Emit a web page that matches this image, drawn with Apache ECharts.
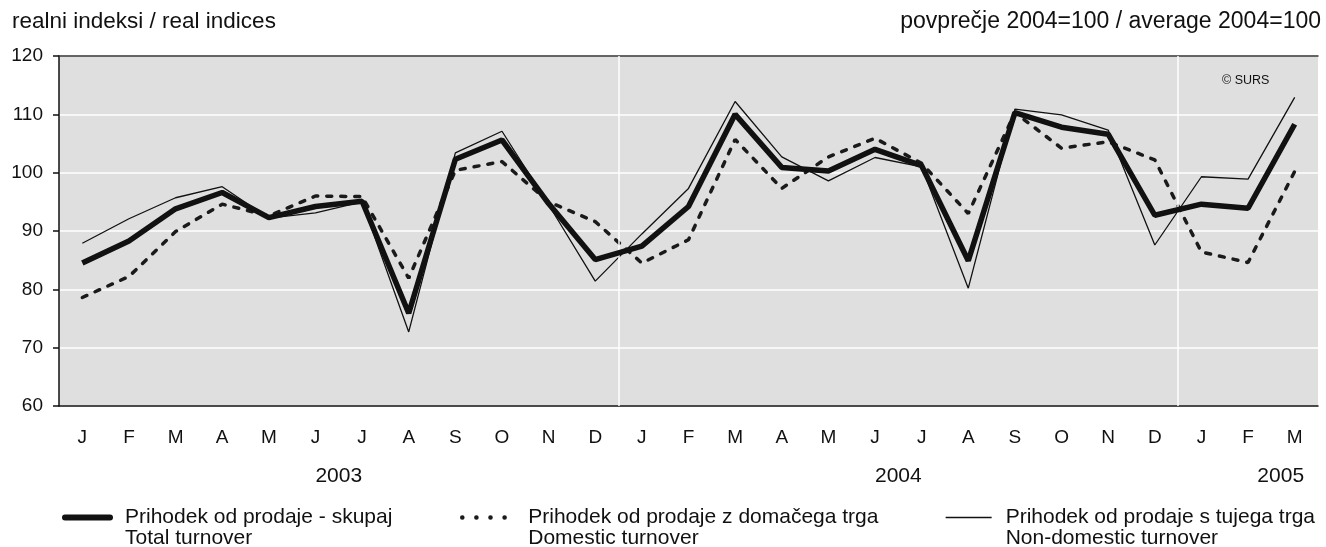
<!DOCTYPE html>
<html>
<head>
<meta charset="utf-8">
<script src="https://cdn.jsdelivr.net/npm/echarts@6/dist/echarts.min.js"></script>
<style>
  html, body { margin: 0; padding: 0; background: #fff; }
  #main { width: 1326px; height: 547px; }
</style>
</head>
<body>
<div id="main"></div>
<script>
// meseci jan 2003 - mar 2005
var months = ['J', 'F', 'M', 'A', 'M', 'J', 'J', 'A', 'S', 'O', 'N', 'D',
              'J', 'F', 'M', 'A', 'M', 'J', 'J', 'A', 'S', 'O', 'N', 'D',
              'J', 'F', 'M'];
var years = ['2003', '2004', '2005'];
var yearLabelAt = [6, 18, 26.2];   // polozaj napisa leta na osi (v mesecih)
var yearBreaks = [12, 24];         // meja med leti

var total = [84.5, 88.3, 93.8, 96.6, 92.3, 94.2, 95.1, 75.9, 102.3, 105.6, 94.7, 85.1,
             87.4, 94.2, 110.0, 100.9, 100.3, 104.0, 101.2, 84.9, 110.3, 107.8, 106.6, 92.7,
             94.6, 93.9, 108.3];
var domestic = [78.6, 82.2, 89.9, 94.6, 92.6, 96.0, 95.9, 81.9, 100.4, 101.9, 95.0, 91.6,
                84.5, 88.5, 105.7, 97.3, 102.7, 105.9, 101.6, 93.0, 110.3, 104.2, 105.3, 102.2,
                86.4, 84.6, 100.2];
var foreign = [87.9, 92.1, 95.7, 97.6, 92.2, 93.1, 95.0, 72.7, 103.4, 107.1, 94.5, 81.4,
               89.5, 97.3, 112.2, 102.7, 98.6, 102.6, 101.0, 80.2, 110.9, 109.9, 107.3, 87.6,
               99.3, 98.9, 112.9];

var seriesNames = [
    'Prihodek od prodaje - skupaj\nTotal turnover',
    'Prihodek od prodaje z domačega trga\nDomestic turnover',
    'Prihodek od prodaje s tujega trga\nNon-domestic turnover'
];

var font = 'Liberation Sans, Arial, sans-serif';
var ink = '#111';

var myChart = echarts.init(document.getElementById('main'));

// legenda: ikona poravnana s prvo vrstico besedila
function legendAt(item, left, iconW, pad) {
    return {
        data: [item],
        left: left,
        top: 481,
        itemWidth: iconW,
        itemHeight: 14,
        itemGap: 0,
        selectedMode: false,
        itemStyle: {color: 'rgba(0,0,0,0)', borderWidth: 0, opacity: 0},
        formatter: function (name) {
            var p = name.split('\n');
            return '{gap| }\n{t|' + p[0] + '}\n{t|' + p[1] + '}';
        },
        textStyle: {
            fontFamily: font,
            fontSize: 21,
            color: ink,
            rich: {
                gap: {fontSize: 2, height: 21, lineHeight: 21},
                t: {fontFamily: font, fontSize: 21, lineHeight: 21, color: ink, padding: [0, 0, 0, pad]}
            }
        }
    };
}

var option = {
    backgroundColor: '#fff',
    animation: false,
    title: [{
        text: 'realni indeksi / real indices',
        left: 7, top: 5,
        textStyle: {fontFamily: font, fontSize: 22.5, fontWeight: 'normal', color: ink}
    }, {
        text: 'povprečje 2004=100 / average 2004=100',
        right: 0, top: 5,
        textStyle: {fontFamily: font, fontSize: 23, fontWeight: 'normal', color: ink}
    }, {
        text: '© SURS',
        left: 1217, top: 69,
        textStyle: {fontFamily: font, fontSize: 12.5, fontWeight: 'normal', color: ink}
    }],
    legend: [
        legendAt({name: seriesNames[0], lineStyle: {width: 6, cap: 'round'}}, 57, 45, 10),
        legendAt({name: seriesNames[1], lineStyle: {type: [0.1, 14], width: 4.5, cap: 'round'}}, 455, 56, 5),
        legendAt({name: seriesNames[2], lineStyle: {width: 1.3}}, 940, 46, 9)
    ],
    grid: {
        left: 59, right: 8, top: 56, bottom: 141,
        show: true,
        backgroundColor: '#dfdfdf',
        borderWidth: 0
    },
    xAxis: [{
        type: 'category',
        data: months,
        boundaryGap: true,
        axisLine: {lineStyle: {color: ink, width: 1.5}},
        axisTick: {length: 5, interval: 0, lineStyle: {color: ink, width: 1.5}},
        axisLabel: {interval: 0, margin: 22, fontFamily: font, fontSize: 19, color: ink},
        splitLine: {show: false}
    }, {
        type: 'value',
        position: 'bottom',
        min: 0, max: months.length,
        axisLine: {show: false},
        axisTick: {show: false},
        splitLine: {show: false},
        axisLabel: {
            customValues: yearLabelAt,
            margin: 60,
            fontFamily: font, fontSize: 21, color: ink,
            formatter: function (v) {
                var i = yearLabelAt.indexOf(v);
                return i >= 0 ? years[i] : '';
            }
        }
    }, {
        type: 'category',
        position: 'top',
        data: months,
        axisLine: {lineStyle: {color: '#333', width: 1.5}},
        axisTick: {show: false},
        axisLabel: {show: false},
        splitLine: {show: false}
    }],
    yAxis: {
        type: 'value',
        min: 60, max: 120, interval: 10,
        axisLine: {show: true, lineStyle: {color: ink, width: 1.5}},
        axisTick: {show: true, length: 6, lineStyle: {color: ink, width: 1.5}},
        axisLabel: {margin: 16, fontFamily: font, fontSize: 19, color: ink},
        splitLine: {lineStyle: {color: '#ffffff', width: 1.5}}
    },
    series: [{
        // meje med leti
        type: 'line',
        xAxisIndex: 1,
        data: [],
        silent: true,
        markLine: {
            silent: true,
            symbol: 'none',
            label: {show: false},
            lineStyle: {color: '#ffffff', width: 1.5, type: 'solid'},
            data: yearBreaks.map(function (b) { return {xAxis: b}; })
        }
    }, {
        name: seriesNames[1],
        type: 'line',
        data: domestic,
        symbol: 'none',
        lineStyle: {color: '#1a1a1a', width: 3.5, type: [5, 9], cap: 'round'},
        itemStyle: {color: '#1a1a1a'},
        z: 3
    }, {
        name: seriesNames[2],
        type: 'line',
        data: foreign,
        symbol: 'none',
        lineStyle: {color: '#111', width: 1.3},
        itemStyle: {color: '#111'},
        z: 4
    }, {
        name: seriesNames[0],
        type: 'line',
        data: total,
        symbol: 'none',
        lineStyle: {color: '#111', width: 5.5},
        itemStyle: {color: '#111'},
        z: 5
    }]
};

myChart.setOption(option);
</script>
</body>
</html>
